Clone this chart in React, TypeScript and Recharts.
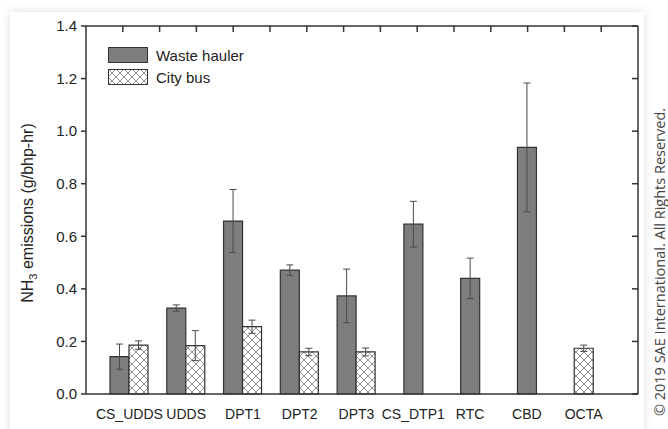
import * as Recharts from 'recharts';
import { Bar, BarChart, Cell, ErrorBar, Label, Legend, XAxis, YAxis } from 'recharts';

const categories = ['CS_UDDS', 'UDDS', 'DPT1', 'DPT2', 'DPT3', 'CS_DTP1', 'RTC', 'CBD', 'OCTA'];
const wasteHauler = [0.142, 0.327, 0.658, 0.471, 0.373, 0.646, 0.44, 0.938, null];
const wasteHaulerErr = [0.048, 0.012, 0.12, 0.02, 0.102, 0.087, 0.077, 0.245, null];
const cityBus = [0.186, 0.184, 0.256, 0.16, 0.16, null, null, null, 0.174];
const cityBusErr = [0.016, 0.057, 0.025, 0.014, 0.015, null, null, null, 0.012];
const yTicks = [0, 0.2, 0.4, 0.6, 0.8, 1.0, 1.2, 1.4];
const topTicks = [1, 2, 3, 4, 5, 6, 7, 8, 9, 10, 11, 12, 13, 14];
const topDivisions = 15;

// paired categories go side by side, lone series are centered on the hidden axis
const data = categories.map((cat, i) => {
  const w = wasteHauler[i];
  const b = cityBus[i];
  const paired = w != null && b != null;
  return {
    cat,
    waste: paired ? w : null,
    wasteErr: paired ? wasteHaulerErr[i] : null,
    bus: paired ? b : null,
    busErr: paired ? cityBusErr[i] : null,
    single: paired ? null : w ?? b,
    singleErr: paired ? null : w != null ? wasteHaulerErr[i] : cityBusErr[i],
    singleIsBus: !paired && w == null,
  };
});

const FONT = 'Liberation Sans, Arial, sans-serif';
const AXIS = '#333';
const GRAY = '#7d7d7d';
const HATCH = 'url(#hatch)';
const pad = { left: 15, right: 26 };
const blank = () => '';

const R: any = Recharts;
const usePlotArea: () => any = R.usePlotArea ?? (() => undefined);

// inward tick marks along the top of the frame, spread over the plot area
function TopTicks() {
  const area = usePlotArea();
  if (!area) return null;
  return (
    <g>
      {topTicks.map((t) => {
        const x = area.x + (area.width * t) / topDivisions;
        return <line key={t} x1={x} x2={x} y1={area.y} y2={area.y + 6} stroke={AXIS} strokeWidth={1.5} />;
      })}
    </g>
  );
}

const legendItems = [
  { name: 'Waste hauler', hatched: false },
  { name: 'City bus', hatched: true },
];

function LegendBox() {
  return (
    <div style={{ fontFamily: FONT, fontSize: 15, color: '#222' }}>
      {legendItems.map((it, i) => (
        <div key={it.name} style={{ display: 'flex', alignItems: 'center', height: 22 }}>
          <svg width={40} height={16}>
            <defs>
              <pattern id={`lhatch${i}`} width={8} height={8} patternUnits="userSpaceOnUse">
                <rect width={8} height={8} fill="#fff" />
                <path d="M0,0 L8,8 M8,0 L0,8" stroke="#777" strokeWidth={0.8} />
              </pattern>
            </defs>
            <rect
              x={0.5}
              y={0.5}
              width={39}
              height={15}
              fill={it.hatched ? `url(#lhatch${i})` : GRAY}
              stroke={AXIS}
              strokeWidth={1}
            />
          </svg>
          <span style={{ marginLeft: 8 }}>{it.name}</span>
        </div>
      ))}
    </div>
  );
}

function YLabel() {
  return (
    <text
      transform="translate(33,213) rotate(-90)"
      textAnchor="middle"
      fontFamily={FONT}
      fontSize={16}
      fill="#222"
    >
      NH
      <tspan dy={4} fontSize={11}>3</tspan>
      <tspan dy={-4}> emissions (g/bhp-hr)</tspan>
    </text>
  );
}

export default function App() {
  return (
    <div style={{ position: 'absolute', left: 0, top: 0, width: 668, height: 429, background: '#fff' }}>
      <div
        style={{
          position: 'absolute',
          left: 10,
          top: 12,
          width: 634,
          height: 430,
          background: '#fff',
          boxShadow: '0 0 10px rgba(0,0,0,0.13)',
        }}
      />
      <div style={{ position: 'absolute', left: 0, top: 0 }}>
        <BarChart
          width={668}
          height={429}
          data={data}
          barGap={0}
          barSize={19}
          margin={{ top: 25, right: 30, bottom: 5, left: 46 }}
        >
          <defs>
            <pattern id="hatch" width={8} height={8} patternUnits="userSpaceOnUse">
              <rect width={8} height={8} fill="#fff" />
              <path d="M0,0 L8,8 M8,0 L0,8" stroke="#777" strokeWidth={0.8} />
            </pattern>
          </defs>
          <XAxis
            dataKey="cat"
            height={30}
            padding={pad}
            interval={0}
            tickSize={0}
            tickMargin={15}
            stroke={AXIS}
            strokeWidth={1.5}
            tick={{ fontFamily: FONT, fontSize: 14, fill: '#222' }}
          />
          <XAxis xAxisId="single" dataKey="cat" padding={pad} hide />
          <XAxis
            xAxisId="top"
            orientation="top"
            dataKey="cat"
            height={1}
            tick={false}
            tickLine={false}
            stroke={AXIS}
            strokeWidth={1.5}
          />
          <YAxis
            domain={[0, 1.4]}
            ticks={yTicks}
            width={40}
            tickSize={5}
            tickMargin={4}
            stroke={AXIS}
            strokeWidth={1.5}
            tickFormatter={(v) => v.toFixed(1)}
            tick={{ fontFamily: FONT, fontSize: 15, fill: '#222' }}
          >
            <Label content={<YLabel />} />
          </YAxis>
          <YAxis
            yAxisId="right"
            orientation="right"
            domain={[0, 1.4]}
            allowDataOverflow
            ticks={yTicks}
            interval={0}
            width={1}
            mirror
            tickFormatter={blank}
            tickSize={6}
            stroke={AXIS}
            strokeWidth={1.5}
          />
          <Legend
            layout="vertical"
            align="center"
            verticalAlign="middle"
            wrapperStyle={{ left: 108, top: 44, width: 200, height: 50 }}
            content={<LegendBox />}
          />
          <Bar dataKey="waste" name="Waste hauler" fill={GRAY} stroke={AXIS} strokeWidth={1.2} isAnimationActive={false}>
            <ErrorBar dataKey="wasteErr" width={3.5} stroke="#4a4a4a" strokeWidth={1} />
          </Bar>
          <Bar dataKey="bus" name="City bus" fill={HATCH} stroke={AXIS} strokeWidth={1.2} isAnimationActive={false}>
            <ErrorBar dataKey="busErr" width={3.5} stroke="#4a4a4a" strokeWidth={1} />
          </Bar>
          <Bar dataKey="single" xAxisId="single" stroke={AXIS} strokeWidth={1.2} legendType="none" isAnimationActive={false}>
            {data.map((d) => (
              <Cell key={d.cat} fill={d.singleIsBus ? HATCH : GRAY} />
            ))}
            <ErrorBar dataKey="singleErr" width={3.5} stroke="#4a4a4a" strokeWidth={1} />
          </Bar>
          <TopTicks />
        </BarChart>
      </div>
      <svg style={{ position: 'absolute', left: 0, top: 0 }} width={668} height={429} pointerEvents="none">
        <text
          transform="translate(665,262) rotate(-90)"
          textAnchor="middle"
          fontFamily="Open Sans, Noto Sans, sans-serif"
          fontSize={14.5}
          fill="#444"
        >
          © 2019 SAE International. All Rights Reserved.
        </text>
      </svg>
    </div>
  );
}
